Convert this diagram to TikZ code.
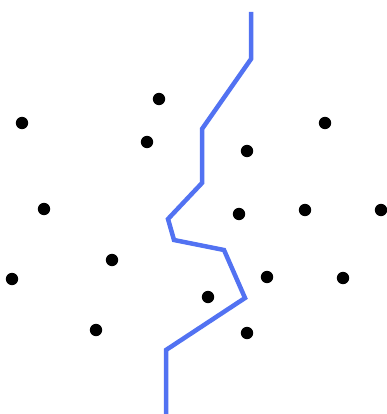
\documentclass[tikz,border=0pt]{standalone}
\usepackage{tikz}
\usepackage{xcolor}
\definecolor{bdblue}{HTML}{5272F2}
\definecolor{ptblack}{HTML}{000000}

\begin{document}
\begin{tikzpicture}[x=1pt, y=-1pt,
    datapoint/.style={fill=ptblack, draw=none},
    boundary/.style={bdblue, line width=4.5pt, line join=miter}]
        \useasboundingbox (0,0) rectangle (386,414);
        % titik kelas kiri
        \foreach \px/\py in {22/123, 159/99, 147/142, 44/209, 112/260, 12/279, 96/330, 208/297}
          \fill[datapoint] (\px,\py) circle (6.2);
        % titik kelas kanan
        \foreach \px/\py in {325/123, 247/151, 239/214, 305/210, 381/210, 267/277, 343/278, 247/333}
          \fill[datapoint] (\px,\py) circle (6.2);
        % garis batas keputusan
        \draw[boundary] plot coordinates {(251,12)(251,59)(202,129)(202,183)(168,219)(174,240)(224,250)(245,298)(166,350)(166,414)};
      \end{tikzpicture}
\end{document}
